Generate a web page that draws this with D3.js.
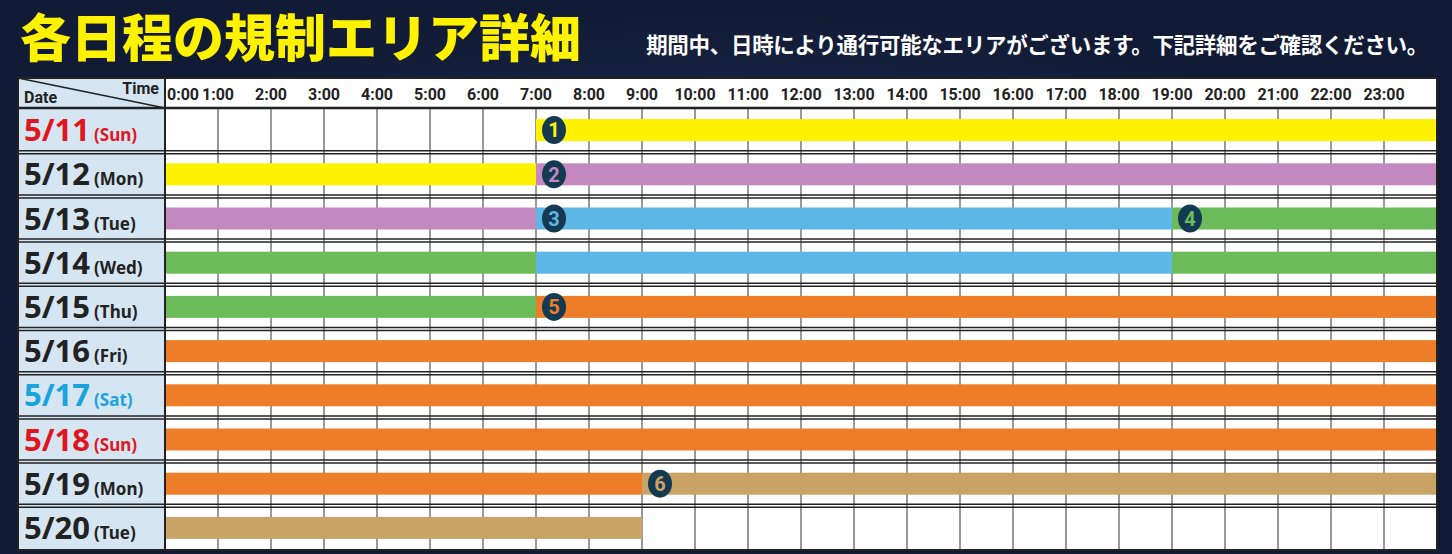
<!DOCTYPE html><html><head><meta charset="utf-8">
<script src="https://cdn.jsdelivr.net/npm/d3@7"></script>
<style>body{margin:0;background:#14203d;}svg{display:block}</style></head><body>
<svg id="c" width="1452" height="554"></svg>
<script>
const dates=["5/11","5/12","5/13","5/14","5/15","5/16","5/17","5/18","5/19","5/20"];
const days=["(Sun)","(Mon)","(Tue)","(Wed)","(Thu)","(Fri)","(Sat)","(Sun)","(Mon)","(Tue)"];
const dateColors=["#e0161e","#222","#222","#222","#222","#222","#1aa3dd","#e0161e","#222","#222"];
const hourLabels=d3.range(24).map(h=>h+":00");
const areaColors={1:"#fff200",2:"#c389bf",3:"#5cb6e6",4:"#6bbb5b",5:"#ee7d2a",6:"#c9a265"};
// [row, startHour, endHour, area, showBadge]
const segments=[
[0,7,24,1,1],
[1,0,7,1,0],[1,7,24,2,1],
[2,0,7,2,0],[2,7,19,3,1],[2,19,24,4,1],
[3,0,7,4,0],[3,7,19,3,0],[3,19,24,4,0],
[4,0,7,4,0],[4,7,24,5,1],
[5,0,24,5,0],[6,0,24,5,0],[7,0,24,5,0],
[8,0,9,5,0],[8,9,24,6,1],
[9,0,9,6,0]];
const svg=d3.select("#c");
const defs=svg.append("defs");
const g0=defs.append("radialGradient").attr("id","bg");
g0.append("stop").attr("offset","0").attr("stop-color","#22305a");
g0.append("stop").attr("offset","1").attr("stop-color","#111b35");
svg.append("rect").attr("width",1452).attr("height",554).attr("fill","url(#bg)");
svg.append("text").attr("x",20).attr("y",57).attr("fill","#fff200").attr("font-family","Noto Sans CJK JP").attr("font-weight",900).attr("font-size",51).text("各日程の規制エリア詳細");
svg.append("text").attr("x",1428).attr("y",53).attr("text-anchor","end").attr("fill","#fff").attr("font-family","Noto Sans CJK JP").attr("font-weight",700).attr("font-size",21.5).attr("letter-spacing",-0.3).text("期間中、日時により通行可能なエリアがございます。下記詳細をご確認ください。");
const L=18,X0=165,X1=1437,T=78,H0=108,B=550;
const x=d3.scaleLinear().domain([0,24]).range([X0,X1]);
const y=d3.scaleBand().domain(dates).range([H0,B]);
svg.append("rect").attr("x",L).attr("y",T).attr("width",X1-L).attr("height",B-T).attr("fill","#fff");
svg.append("rect").attr("x",L).attr("y",T).attr("width",X0-L).attr("height",B-T).attr("fill","#d5e5f1");
svg.append("g").selectAll("line").data(d3.range(1,24)).join("line").attr("x1",d=>x(d)).attr("x2",d=>x(d)).attr("y1",H0).attr("y2",B).attr("stroke","#555").attr("stroke-width",1.2);
svg.append("g").selectAll("rect").data(segments).join("rect")
 .attr("x",d=>x(d[1])).attr("width",d=>x(d[2])-x(d[1]))
 .attr("y",d=>y(dates[d[0]])+y.bandwidth()/2-11).attr("height",22).attr("fill",d=>areaColors[d[3]]);
const badges=segments.filter(d=>d[4]);
const bg=svg.append("g").selectAll("g").data(badges).join("g").attr("transform",d=>`translate(${x(d[1])+18},${y(dates[d[0]])+y.bandwidth()/2})`);
bg.append("ellipse").attr("rx",12).attr("ry",14).attr("fill","#143a52");
bg.append("text").attr("text-anchor","middle").attr("dy","0.36em").attr("font-family","Roboto").attr("font-weight",700).attr("font-size",20).attr("fill",d=>areaColors[d[3]]).text(d=>d[3]);
svg.append("g").selectAll("g").data(dates.slice(1)).join(g=>{const e=g.append("g");
 e.append("line").attr("y1",d=>y(d)-1.5).attr("y2",d=>y(d)-1.5);
 e.append("line").attr("y1",d=>y(d)+1.5).attr("y2",d=>y(d)+1.5);return e;})
 .selectAll("line").attr("x1",L).attr("x2",X1).attr("stroke","#222").attr("stroke-width",1.5);
svg.append("line").attr("x1",L).attr("x2",X1).attr("y1",H0).attr("y2",H0).attr("stroke","#222").attr("stroke-width",2.5);
svg.append("line").attr("x1",X0).attr("x2",X0).attr("y1",T).attr("y2",B).attr("stroke","#222").attr("stroke-width",2);
svg.append("rect").attr("x",L).attr("y",T).attr("width",X1-L).attr("height",B-T).attr("fill","none").attr("stroke","#222").attr("stroke-width",2);
svg.append("line").attr("x1",L).attr("y1",T).attr("x2",X0).attr("y2",H0).attr("stroke","#222").attr("stroke-width",1.5);
svg.append("text").attr("x",24).attr("y",103).attr("font-family","Liberation Sans Narrow, Roboto").attr("font-weight",700).attr("font-size",16).attr("fill","#222").text("Date");
svg.append("text").attr("x",159).attr("y",94).attr("text-anchor","end").attr("font-family","Liberation Sans Narrow, Roboto").attr("font-weight",700).attr("font-size",16).attr("fill","#222").text("Time");
svg.append("g").selectAll("text").data(hourLabels).join("text").attr("x",(d,i)=>i==0?x(0)+2:x(i)).attr("text-anchor",(d,i)=>i==0?"start":"middle").attr("y",100).attr("font-family","Liberation Sans Narrow, Roboto").attr("font-weight",700).attr("font-size",16).attr("fill","#222").text(d=>d);
const dl=svg.append("g").selectAll("text").data(dates).join("text").attr("x",24).attr("y",d=>y(d)+y.bandwidth()/2+11).attr("font-family","Noto Sans").attr("font-weight",700).attr("fill",(d,i)=>dateColors[i]);
dl.append("tspan").attr("font-size",31).text(d=>d);
dl.append("tspan").attr("font-size",17).attr("dx",4).text((d,i)=>days[i]);
</script></body></html>
